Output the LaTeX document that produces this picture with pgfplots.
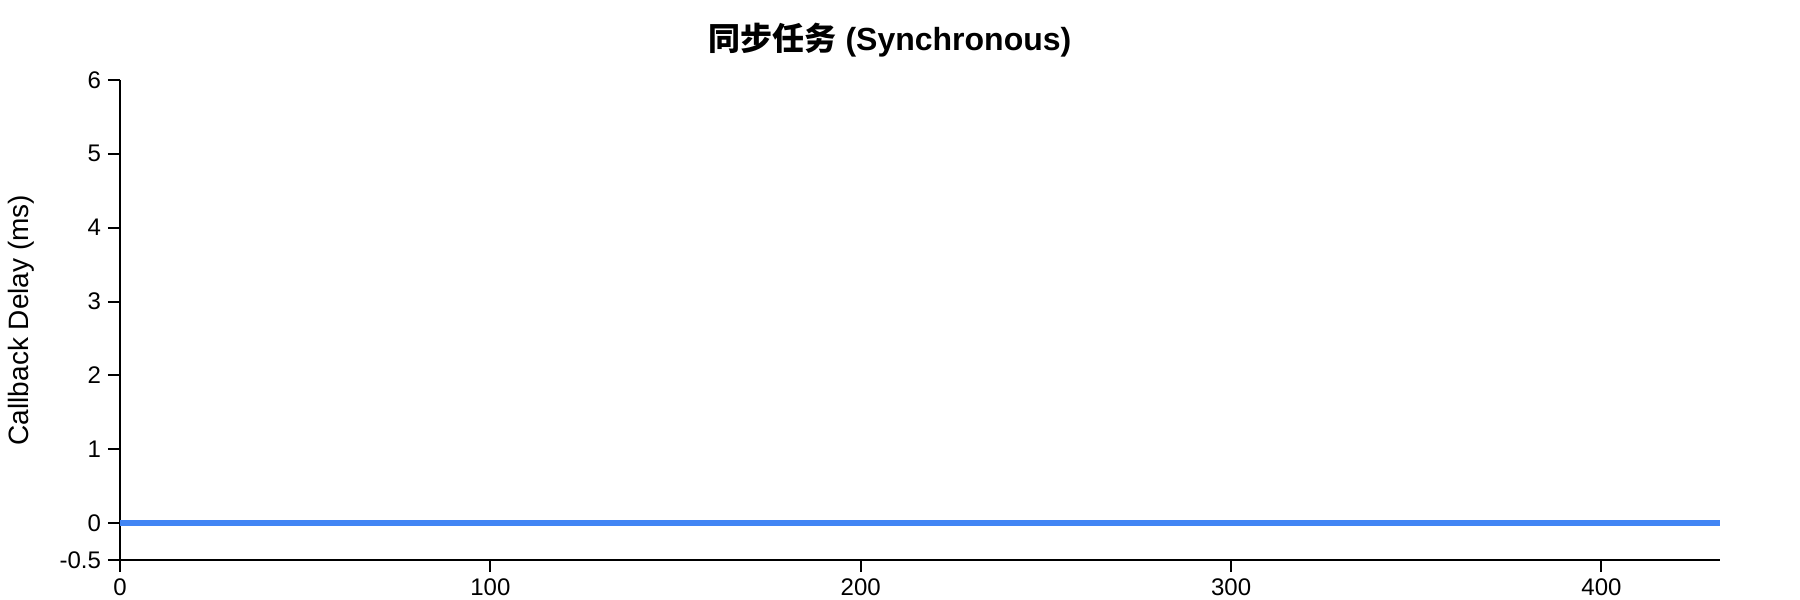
\documentclass[border=0pt]{standalone}
\usepackage{fontspec}
\setmainfont{Liberation Sans}
\newfontfamily\cjk{Noto Sans CJK SC}
\usepackage{pgfplots}
\pgfplotsset{compat=1.18}
\definecolor{lineblue}{RGB}{66,133,244}

\begin{document}
\begin{tikzpicture}
\begin{axis}[
        scale only axis,
        width=800pt,
        height=240pt,
        xmin=0, xmax=432,
        ymin=-0.5, ymax=6,
        axis lines=left,
        axis line style={-, line width=1pt, black},
        tick align=outside,
        major tick length=6pt,
        tick style={line width=1pt, black},
        xtick={0,100,200,300,400},
        xticklabels={0,100,200,300,400},
        ytick={-0.5,0,1,2,3,4,5,6},
        yticklabels={-0.5,0,1,2,3,4,5,6},
        tick label style={font=\fontsize{12}{14}\selectfont},
        ylabel={Callback Delay (ms)},
        ylabel style={at={(axis description cs:-0.0619,0.5)}, anchor=center,
            font=\fontsize{14}{16}\selectfont},
        clip=false,
    ]
% callback delay stays at zero the whole run
\addplot[color=lineblue, line width=3pt, mark=none]
    coordinates {
        (0,0) (50,0) (100,0) (150,0) (200,0) (250,0)
        (300,0) (350,0) (400,0) (432,0)
    };
\end{axis}
\node[font=\fontsize{16}{19}\selectfont\bfseries] at (385pt,260pt)
    {{\cjk 同步任务} (Synchronous)};
\pgfresetboundingbox
\path (-60pt,-20pt) rectangle (840pt,280pt);
\end{tikzpicture}
\end{document}
